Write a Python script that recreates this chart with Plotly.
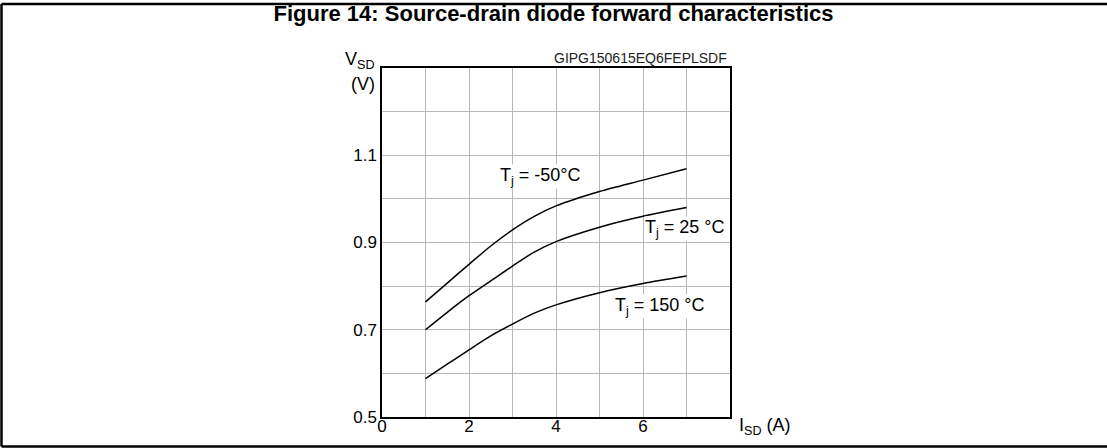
import plotly.graph_objects as go

# Data
i_sd = [1, 1.5, 2, 2.5, 3, 3.5, 4, 5, 6, 7]
v_m50 = [0.764, 0.807, 0.850, 0.892, 0.929, 0.960, 0.984, 1.017, 1.043, 1.069]
v_25 = [0.700, 0.740, 0.778, 0.812, 0.846, 0.878, 0.902, 0.935, 0.960, 0.980]
v_150 = [0.588, 0.621, 0.654, 0.686, 0.713, 0.738, 0.757, 0.785, 0.806, 0.823]

x_ticks = [0, 2, 4, 6]
x_minor = [1, 3, 5, 7, 8]
y_ticks = [0.5, 0.7, 0.9, 1.1]
y_minor = [0.6, 0.8, 1.0, 1.2, 1.3]

labels = [
    (3.655, 1.052, "T<sub>j</sub> = -50°C"),
    (6.97, 0.933, "T<sub>j</sub> = 25 °C"),
    (6.39, 0.754, "T<sub>j</sub> = 150 °C"),
]

FONT = "Arial, Liberation Sans, sans-serif"
GRID = "#b8b8b8"

fig = go.Figure()
for ys in (v_m50, v_25, v_150):
    fig.add_trace(go.Scatter(x=i_sd, y=ys, mode="lines",
                             line=dict(color="black", width=1.5, shape="spline", smoothing=0.8),
                             showlegend=False, hoverinfo="skip"))

annotations = []
for x, y, t in labels:
    annotations.append(dict(x=x, y=y, xref="x", yref="y", text=t, showarrow=False,
                            font=dict(family=FONT, size=18, color="black"),
                            bgcolor="white", borderpad=0))

annotations += [
    dict(x=-0.0144, y=0.983, xref="paper", yref="paper", text="V<sub>SD</sub>",
         showarrow=False, xanchor="right", yanchor="bottom",
         font=dict(family=FONT, size=18, color="black")),
    dict(x=-0.0144, y=0.955, xref="paper", yref="paper", text="(V)",
         showarrow=False, xanchor="right", yanchor="middle",
         font=dict(family=FONT, size=18, color="black")),
    dict(x=1.02, y=-0.026, xref="paper", yref="paper", text="I<sub>SD</sub> (A)",
         showarrow=False, xanchor="left", yanchor="middle",
         font=dict(family=FONT, size=18, color="black")),
    dict(x=0.997, y=1.0, xref="paper", yref="paper", text="GIPG150615EQ6FEPLSDF",
         showarrow=False, xanchor="right", yanchor="bottom",
         font=dict(family=FONT, size=14, color="#222222")),
]

shapes = [
    dict(type="line", xref="paper", yref="paper", x0=-1.0934, x1=2.09, y0=1.1834, y1=1.1834,
         line=dict(color="black", width=2.5)),
    dict(type="line", xref="paper", yref="paper", x0=-1.0934, x1=-1.0934, y0=1.1834, y1=-0.0845,
         line=dict(color="black", width=2.5)),
    dict(type="line", xref="paper", yref="paper", x0=-1.0934, x1=2.09, y0=-0.0845, y1=-0.0845,
         line=dict(color="black", width=2.5)),
]

fig.update_layout(
    width=1107, height=448,
    margin=dict(l=382, r=377, t=68, b=31, autoexpand=False),
    paper_bgcolor="white", plot_bgcolor="white",
    title=dict(text="<b>Figure 14: Source-drain diode forward characteristics</b>",
               x=0.5, xref="container", xanchor="center", y=1 - 13 / 448, yref="container",
               yanchor="middle", font=dict(family=FONT, size=22, color="black")),
    annotations=annotations,
    shapes=shapes,
    font=dict(family=FONT, size=17, color="black"),
)

fig.update_xaxes(range=[0, 8], tickmode="array", tickvals=x_ticks,
                 showgrid=True, gridcolor=GRID, gridwidth=1,
                 minor=dict(tickvals=x_minor, showgrid=True, gridcolor=GRID, gridwidth=1, ticks=""),
                 showline=True, linecolor="black", linewidth=1.5, mirror=True,
                 ticks="", zeroline=False, tickfont=dict(size=17), ticklabelstandoff=-7)
fig.update_yaxes(range=[0.5, 1.3], tickmode="array", tickvals=y_ticks, tickformat=".1f",
                 showgrid=True, gridcolor=GRID, gridwidth=1,
                 minor=dict(tickvals=y_minor, showgrid=True, gridcolor=GRID, gridwidth=1, ticks=""),
                 showline=True, linecolor="black", linewidth=1.5, mirror=True,
                 ticks="", zeroline=False, tickfont=dict(size=17))

fig.write_html("out.html", config={"displayModeBar": False},
               post_script="document.body.style.margin='0';document.body.style.overflow='hidden';")
